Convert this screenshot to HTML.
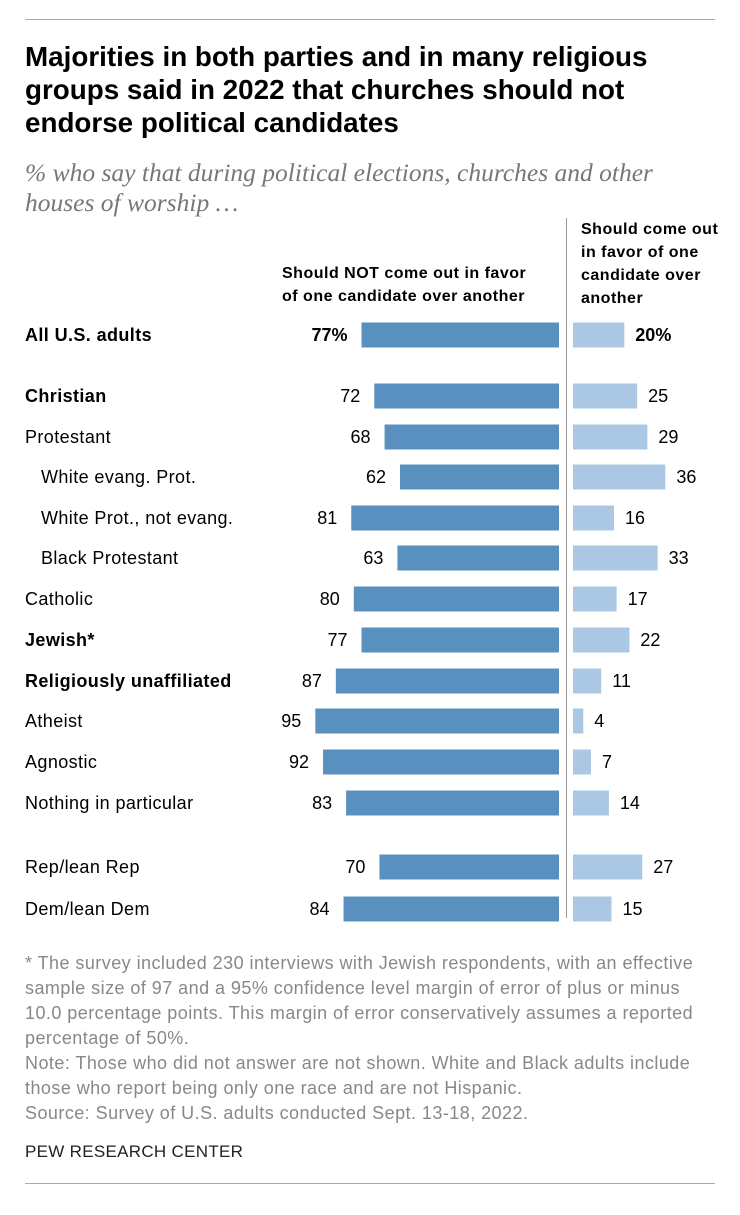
<!DOCTYPE html>
<html><head><meta charset="utf-8"><style>
body{margin:0;background:#fff;width:740px;height:1215px;position:relative;font-family:"Liberation Sans",sans-serif;color:#000;overflow:hidden}
.abs{position:absolute}
.t{font-size:27.8px;font-weight:bold;line-height:33px;left:25px;top:40px;width:690px}
.sub{font-family:"Liberation Serif",serif;font-style:italic;color:#777;font-size:25.5px;line-height:30px;left:25px;top:158px;width:690px}
.hdr{font-size:16px;font-weight:bold;line-height:23px;letter-spacing:0.5px}
.note{font-size:18px;letter-spacing:0.45px;color:#888;line-height:25px;left:25px;width:700px}
</style></head><body>
<div class="abs" style="left:25px;top:19px;width:690px;height:1px;background:#aaa"></div>
<div class="abs t">Majorities in both parties and in many religious<br>groups said in 2022 that churches should not<br>endorse political candidates</div>
<div class="abs sub">% who say that during political elections, churches and other<br>houses of worship …</div>
<div class="abs hdr" style="left:282px;top:262px;width:280px">Should NOT come out in favor<br>of one candidate over another</div>
<div class="abs hdr" style="left:581px;top:218px;width:160px">Should come out<br>in favor of one<br>candidate over<br>another</div>
<div class="abs" style="left:566px;top:218px;width:1px;height:700px;background:#999"></div>
<svg class="abs" style="left:0;top:0" width="740" height="1215" id="chart"></svg>
<div class="abs note" style="top:951px;white-space:nowrap">* The survey included 230 interviews with Jewish respondents, with an effective<br>sample size of 97 and a 95% confidence level margin of error of plus or minus<br>10.0 percentage points. This margin of error conservatively assumes a reported<br>percentage of 50%.<br>Note: Those who did not answer are not shown. White and Black adults include<br>those who report being only one race and are not Hispanic.<br>Source: Survey of U.S. adults conducted Sept. 13-18, 2022.</div>
<div class="abs" style="left:25px;top:1142px;font-size:17px;color:#222;letter-spacing:0.3px">PEW RESEARCH CENTER</div>
<div class="abs" style="left:25px;top:1183px;width:690px;height:1px;background:#aaa"></div>
<script>
const categories=["All U.S. adults","Christian","Protestant","White evang. Prot.","White Prot., not evang.","Black Protestant","Catholic","Jewish*","Religiously unaffiliated","Atheist","Agnostic","Nothing in particular","Rep/lean Rep","Dem/lean Dem"];
const notValues=[77,72,68,62,81,63,80,77,87,95,92,83,70,84];
const shouldValues=[20,25,29,36,16,33,17,22,11,4,7,14,27,15];
const rowY=[335,396,437,477,518,558,599,640,681,721,762,803,867,909];
const bold=[1,1,0,0,0,0,0,1,1,0,0,0,0,0];
const indent=[0,0,0,1,1,1,0,0,0,0,0,0,0,0];
const svg=document.getElementById('chart');
const NS='http://www.w3.org/2000/svg';
const k=2.565, leftEnd=559, rightStart=573, bh=25;
function mk(tag,attrs,txt){const e=document.createElementNS(NS,tag);for(const a in attrs)e.setAttribute(a,attrs[a]);if(txt!==undefined)e.textContent=txt;svg.appendChild(e);return e;}
categories.forEach((c,i)=>{
 const y=rowY[i];
 const l=mk('text',{x:indent[i]?41:25,y:y+6,'font-size':18,'letter-spacing':0.4,'font-weight':bold[i]?'bold':'normal','font-family':'Liberation Sans, sans-serif'},c);
 
 
 const w=notValues[i]*k;
 const b=mk('rect',{x:leftEnd-w,y:y-bh/2,width:w,height:bh,fill:'#5a90bf'});
 
 
 const v=mk('text',{x:leftEnd-w-14,y:y+6,'font-size':18,'text-anchor':'end','font-weight':i==0?'bold':'normal','font-family':'Liberation Sans, sans-serif'},notValues[i]+(i==0?'%':''));
 
 
 const w2=shouldValues[i]*k;
 const b2=mk('rect',{x:rightStart,y:y-bh/2,width:w2,height:bh,fill:'#aac8e3'});
 
 
 const v2=mk('text',{x:rightStart+w2+11,y:y+6,'font-size':18,'font-weight':i==0?'bold':'normal','font-family':'Liberation Sans, sans-serif'},shouldValues[i]+(i==0?'%':''));
 
 
});
</script>
</body></html>
